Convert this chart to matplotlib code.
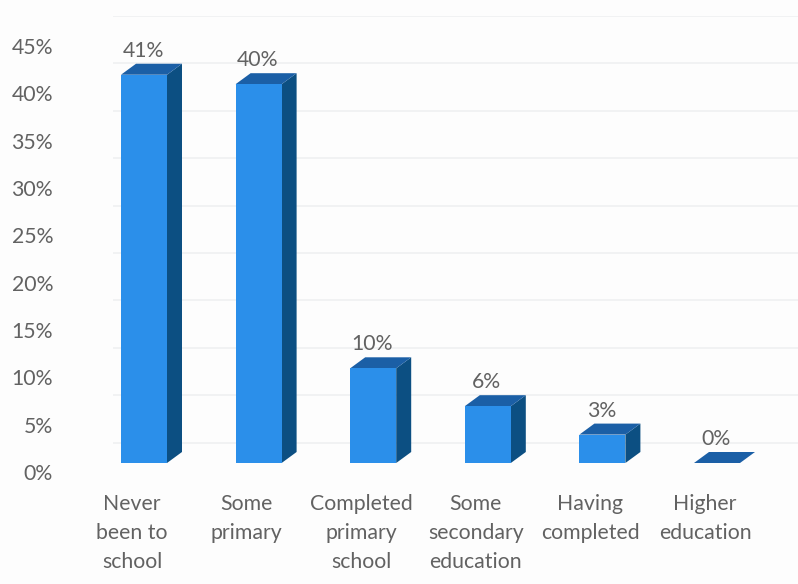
import matplotlib
matplotlib.use("Agg")
import matplotlib.pyplot as plt
from matplotlib.patches import Polygon, Rectangle

plt.rcParams["font.family"] = ["Lato", "DejaVu Sans"]

categories = ["Never\nbeen to\nschool", "Some\nprimary", "Completed\nprimary\nschool",
              "Some\nsecondary\neducation", "Having\ncompleted", "Higher\neducation"]
values = [41, 40, 10, 6, 3, 0]
tick_values = [0, 5, 10, 15, 20, 25, 30, 35, 40, 45]
grid_values = [5, 10, 15, 20, 25, 30, 35, 40, 45, 50]

W, H = 798, 584
STEP = 114.6          # pixels between categories
UNIT = 9.47           # pixels per percentage point
TEXT = "#626262"
FRONT, SIDE, TOP = "#2b8fea", "#0c4f82", "#1b5fa6"
FONT_SIZE = 15.3


def add_axes_px(fig, left, top, right, bottom, **kw):
    return fig.add_axes([left / W, 1 - bottom / H, (right - left) / W, (bottom - top) / H], **kw)


fig = plt.figure(figsize=(W / 100, H / 100), dpi=100, facecolor="#fdfdfd")

# Back wall with its gridlines, which sit above the front-face baseline
wall = add_axes_px(fig, 113, 16, W, 490)
wall.set_ylim(0, 50)
wall.set_xlim(0, 1)
wall.set_yticks(grid_values)
wall.set_xticks([])
wall.grid(axis="y", color="#eeeff0", lw=1.1)
wall.tick_params(left=False, labelleft=False)
wall.patch.set_alpha(0)
for s in wall.spines.values():
    s.set_visible(False)

# Axis labels for both directions
labels = add_axes_px(fig, 60, 472 - 45 * UNIT, W, 472)
labels.set_ylim(0, 45)
labels.set_xlim((60 - 132) / STEP, (W - 132) / STEP)
labels.set_yticks(tick_values, [f"{v}%" for v in tick_values], fontsize=FONT_SIZE, color=TEXT)
labels.set_xticks(range(len(categories)), categories, fontsize=FONT_SIZE, color=TEXT, linespacing=1.54)
labels.tick_params(axis="y", length=0, pad=5)
labels.tick_params(axis="x", length=0, pad=16)
labels.patch.set_alpha(0)
for s in labels.spines.values():
    s.set_visible(False)

# Bars, drawn with a fixed oblique depth
ax = fig.add_axes([0, 0, 1, 1])
ax.set_xlim(-144 / STEP, (W - 144) / STEP)
ax.set_ylim(-(H - 463) / UNIT, 463 / UNIT)
ax.axis("off")
ax.patch.set_alpha(0)

half = 23 / STEP
dx, dy = 15 / STEP, 11 / UNIT

for i, v in enumerate(values):
    l, r = i - half, i + half
    ax.add_patch(Polygon([(r, 0), (r + dx, dy), (r + dx, v + dy), (r, v)], fc=SIDE, ec="none"))
    ax.add_patch(Polygon([(l, v), (r, v), (r + dx, v + dy), (l + dx, v + dy)], fc=TOP, ec="none"))
    if v > 0:
        ax.add_patch(Rectangle((l, 0), r - l, v, fc=FRONT, ec="none"))
    ax.annotate(f"{v}%", (i, v), xytext=(-1 * 0.72, 24 * 0.72), textcoords="offset points",
                ha="center", va="center", fontsize=FONT_SIZE, color=TEXT)

fig.savefig("out.png", dpi=100, facecolor=fig.get_facecolor())
